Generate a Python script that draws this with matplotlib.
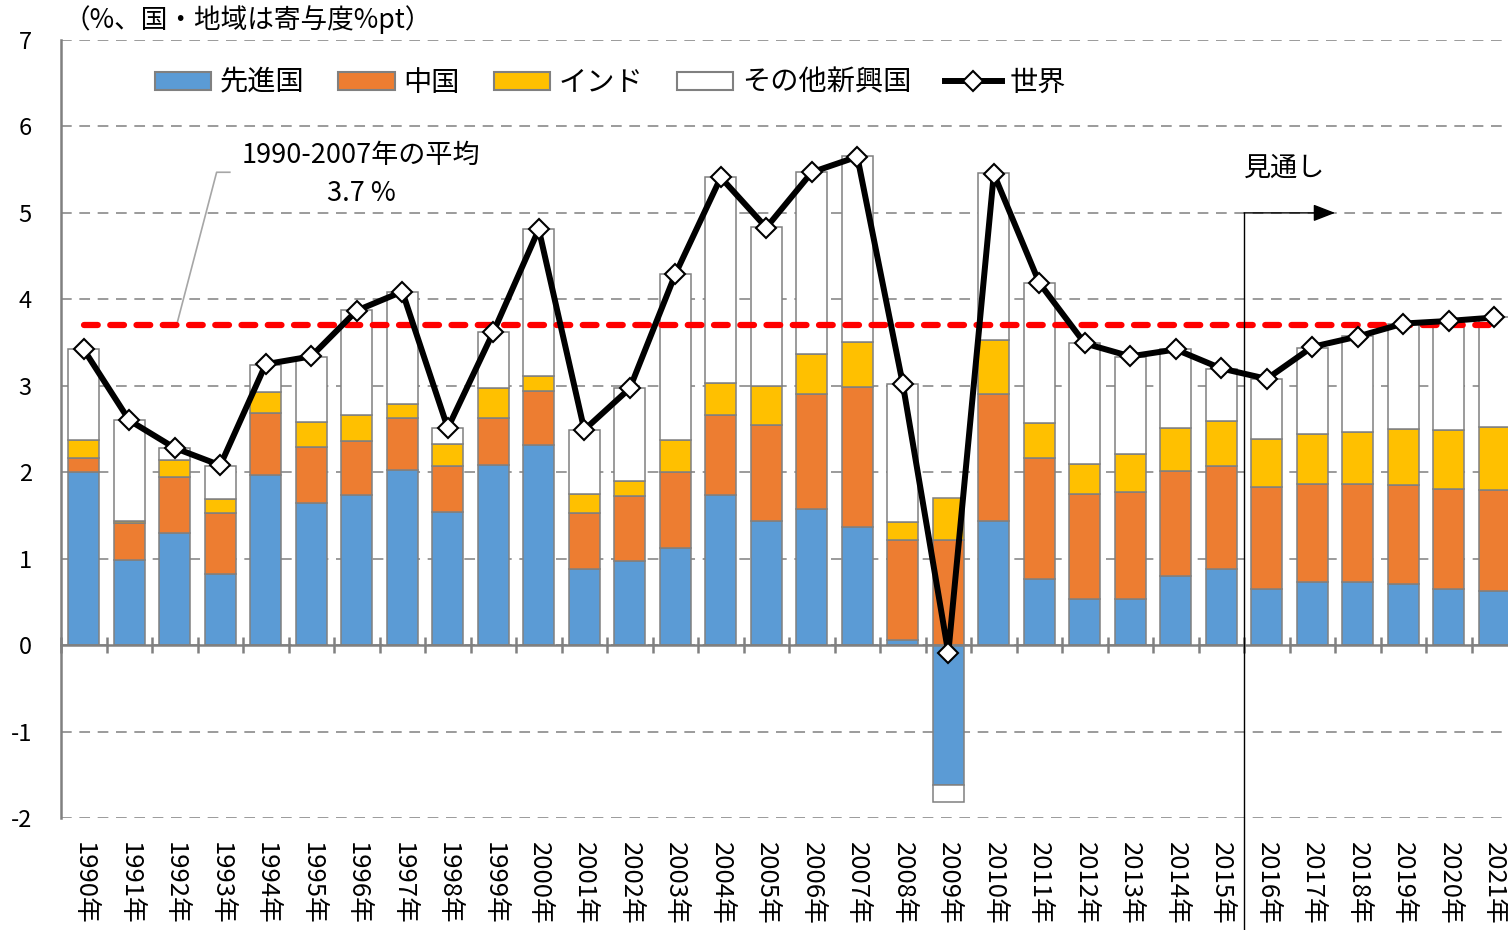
import numpy as np
import matplotlib
matplotlib.use('Agg')
import matplotlib.pyplot as plt
from matplotlib.patches import Patch
from matplotlib.lines import Line2D
import matplotlib.transforms as mtransforms

plt.rcParams['font.family'] = ['Noto Sans CJK JP', 'DejaVu Sans']
plt.rcParams['axes.unicode_minus'] = False

# ---------------- data ----------------
years = list(range(1990, 2022))
year_labels = [f"{y}年" for y in years]

advanced = [2.00, 0.98, 1.30, 0.82, 1.97, 1.64, 1.74, 2.02, 1.54, 2.08,
            2.31, 0.88, 0.97, 1.12, 1.74, 1.43, 1.57, 1.37, 0.06, -1.62,
            1.43, 0.76, 0.53, 0.53, 0.80, 0.88, 0.65, 0.73, 0.73, 0.71,
            0.65, 0.63]
china = [0.16, 0.43, 0.64, 0.71, 0.71, 0.65, 0.62, 0.61, 0.53, 0.55,
         0.63, 0.65, 0.75, 0.88, 0.92, 1.12, 1.33, 1.62, 1.16, 1.22,
         1.48, 1.40, 1.22, 1.24, 1.21, 1.19, 1.18, 1.13, 1.13, 1.14,
         1.16, 1.16]
india = [0.21, 0.02, 0.20, 0.16, 0.25, 0.29, 0.30, 0.16, 0.26, 0.34,
         0.17, 0.22, 0.18, 0.37, 0.37, 0.45, 0.47, 0.52, 0.20, 0.48,
         0.62, 0.41, 0.34, 0.44, 0.50, 0.52, 0.55, 0.58, 0.60, 0.65,
         0.68, 0.73]
other_em = [1.05, 1.17, 0.14, 0.38, 0.31, 0.75, 1.22, 1.29, 0.18, 0.65,
            1.70, 0.74, 1.07, 1.92, 2.38, 1.84, 2.10, 2.15, 1.60, -0.20,
            1.93, 1.62, 1.40, 1.12, 0.91, 0.60, 0.70, 1.00, 1.12, 1.22,
            1.25, 1.27]
world = [3.42, 2.60, 2.28, 2.08, 3.25, 3.34, 3.87, 4.09, 2.51, 3.62,
         4.81, 2.49, 2.97, 4.29, 5.41, 4.83, 5.47, 5.65, 3.02, -0.09,
         5.45, 4.19, 3.49, 3.34, 3.42, 3.20, 3.08, 3.45, 3.57, 3.72,
         3.75, 3.79]
avg_1990_2007 = 3.7
forecast_start = 2016

series_names = ['先進国', '中国', 'インド', 'その他新興国']
series_colors = ['#5B9BD5', '#ED7D31', '#FFC000', '#FFFFFF']
world_name = '世界'

# ---------------- figure ----------------
W, H = 1508, 930
fig = plt.figure(figsize=(W / 100, H / 100), dpi=100)
ax = fig.add_axes([61 / W, 1 - 818 / H, 1 - 61 / W, (818 - 40) / H])

x = np.arange(len(years))
GRAY = '#808080'

pos_bottom = np.zeros(len(x))
neg_bottom = np.zeros(len(x))
for vals, col in zip([advanced, china, india, other_em], series_colors):
    v = np.array(vals)
    bottom = np.where(v >= 0, pos_bottom, neg_bottom)
    ax.bar(x, v, bottom=bottom, width=0.68, color=col, edgecolor=GRAY,
           linewidth=1.1, zorder=2)
    pos_bottom += np.where(v >= 0, v, 0)
    neg_bottom += np.where(v < 0, v, 0)

# average line
ax.plot([x[0], x[-1]], [avg_1990_2007, avg_1990_2007], color='#FF0000',
        lw=4.5, linestyle=(0, (2.2, 2.0)), dash_capstyle='round', zorder=4)

# world line
ax.plot(x, world, color='black', lw=4.3, marker='D', ms=10,
        mfc='white', mec='black', mew=1.5, zorder=5, clip_on=False)

# axes styling
ax.set_yticks(range(-2, 8))
ax.tick_params(axis='y', length=0, pad=21, labelsize=17)
ax.yaxis.grid(True, color=GRAY, linestyle=(0, (7, 5)), linewidth=1.1)
ax.set_axisbelow(True)
for s in ['top', 'right']:
    ax.spines[s].set_visible(False)
ax.spines['left'].set_color(GRAY)
ax.spines['left'].set_linewidth(1.8)
ax.spines['bottom'].set_position(('data', 0))
ax.spines['bottom'].set_color(GRAY)
ax.spines['bottom'].set_linewidth(1.8)
ax.spines['bottom'].set_zorder(3)
ax.set_xticks(np.arange(len(x) + 1) - 0.5)
ax.set_xticklabels([])
ax.tick_params(axis='x', direction='inout', length=12, width=1.8, color=GRAY)
ax.set_xlim(-0.5, 31.3)
ax.set_ylim(-2, 7)

trans = mtransforms.blended_transform_factory(ax.transData, ax.transAxes)
for i, lab in enumerate(year_labels):
    ax.text(x[i], -0.031, lab, transform=trans, rotation=270,
            ha='center', va='top', fontsize=18.5)

# forecast marker
fc = years.index(forecast_start) - 0.5
ax.axvline(fc, ymin=-0.15, ymax=(5 + 2) / 9, color='black', lw=1.0,
           clip_on=False, zorder=6)
ax.annotate('', xy=(fc + 2.0, 5), xytext=(fc, 5),
            arrowprops=dict(arrowstyle='-|>,head_length=0.9,head_width=0.35',
                            color='black', lw=1.0, mutation_scale=15,
                            shrinkA=0, shrinkB=0), zorder=6)
ax.text(fc + 0.9, 5.52, '見通し', ha='center', va='center', fontsize=19.5)

# average annotation
ax.plot([2.04, 2.92, 3.21], [avg_1990_2007, 5.47, 5.47], color='#A6A6A6',
        lw=1.2, zorder=3)
ax.text(6.1, 5.67, '1990-2007年の平均', ha='center', va='center', fontsize=19.5)
ax.text(6.1, 5.23, f'{avg_1990_2007} %', ha='center', va='center', fontsize=19.5)

# title
fig.text(64 / W, 1 - 20 / H, '（%、国・地域は寄与度%pt）', ha='left',
         va='center', fontsize=19.2)

# legend
handles = [Patch(facecolor=c, edgecolor=GRAY, linewidth=1.5) for c in series_colors]
handles.append(Line2D([], [], color='black', lw=4.3, marker='D', ms=10,
                      mfc='white', mec='black', mew=1.5))
ax.legend(handles, series_names + [world_name], loc='center left',
          bbox_to_anchor=(0.065, 0.945), ncol=5, frameon=False, fontsize=20.3,
          handlelength=2.0, handleheight=0.6, handletextpad=0.3,
          columnspacing=1.2, borderpad=0, borderaxespad=0)

fig.savefig('out.png', dpi=100)
